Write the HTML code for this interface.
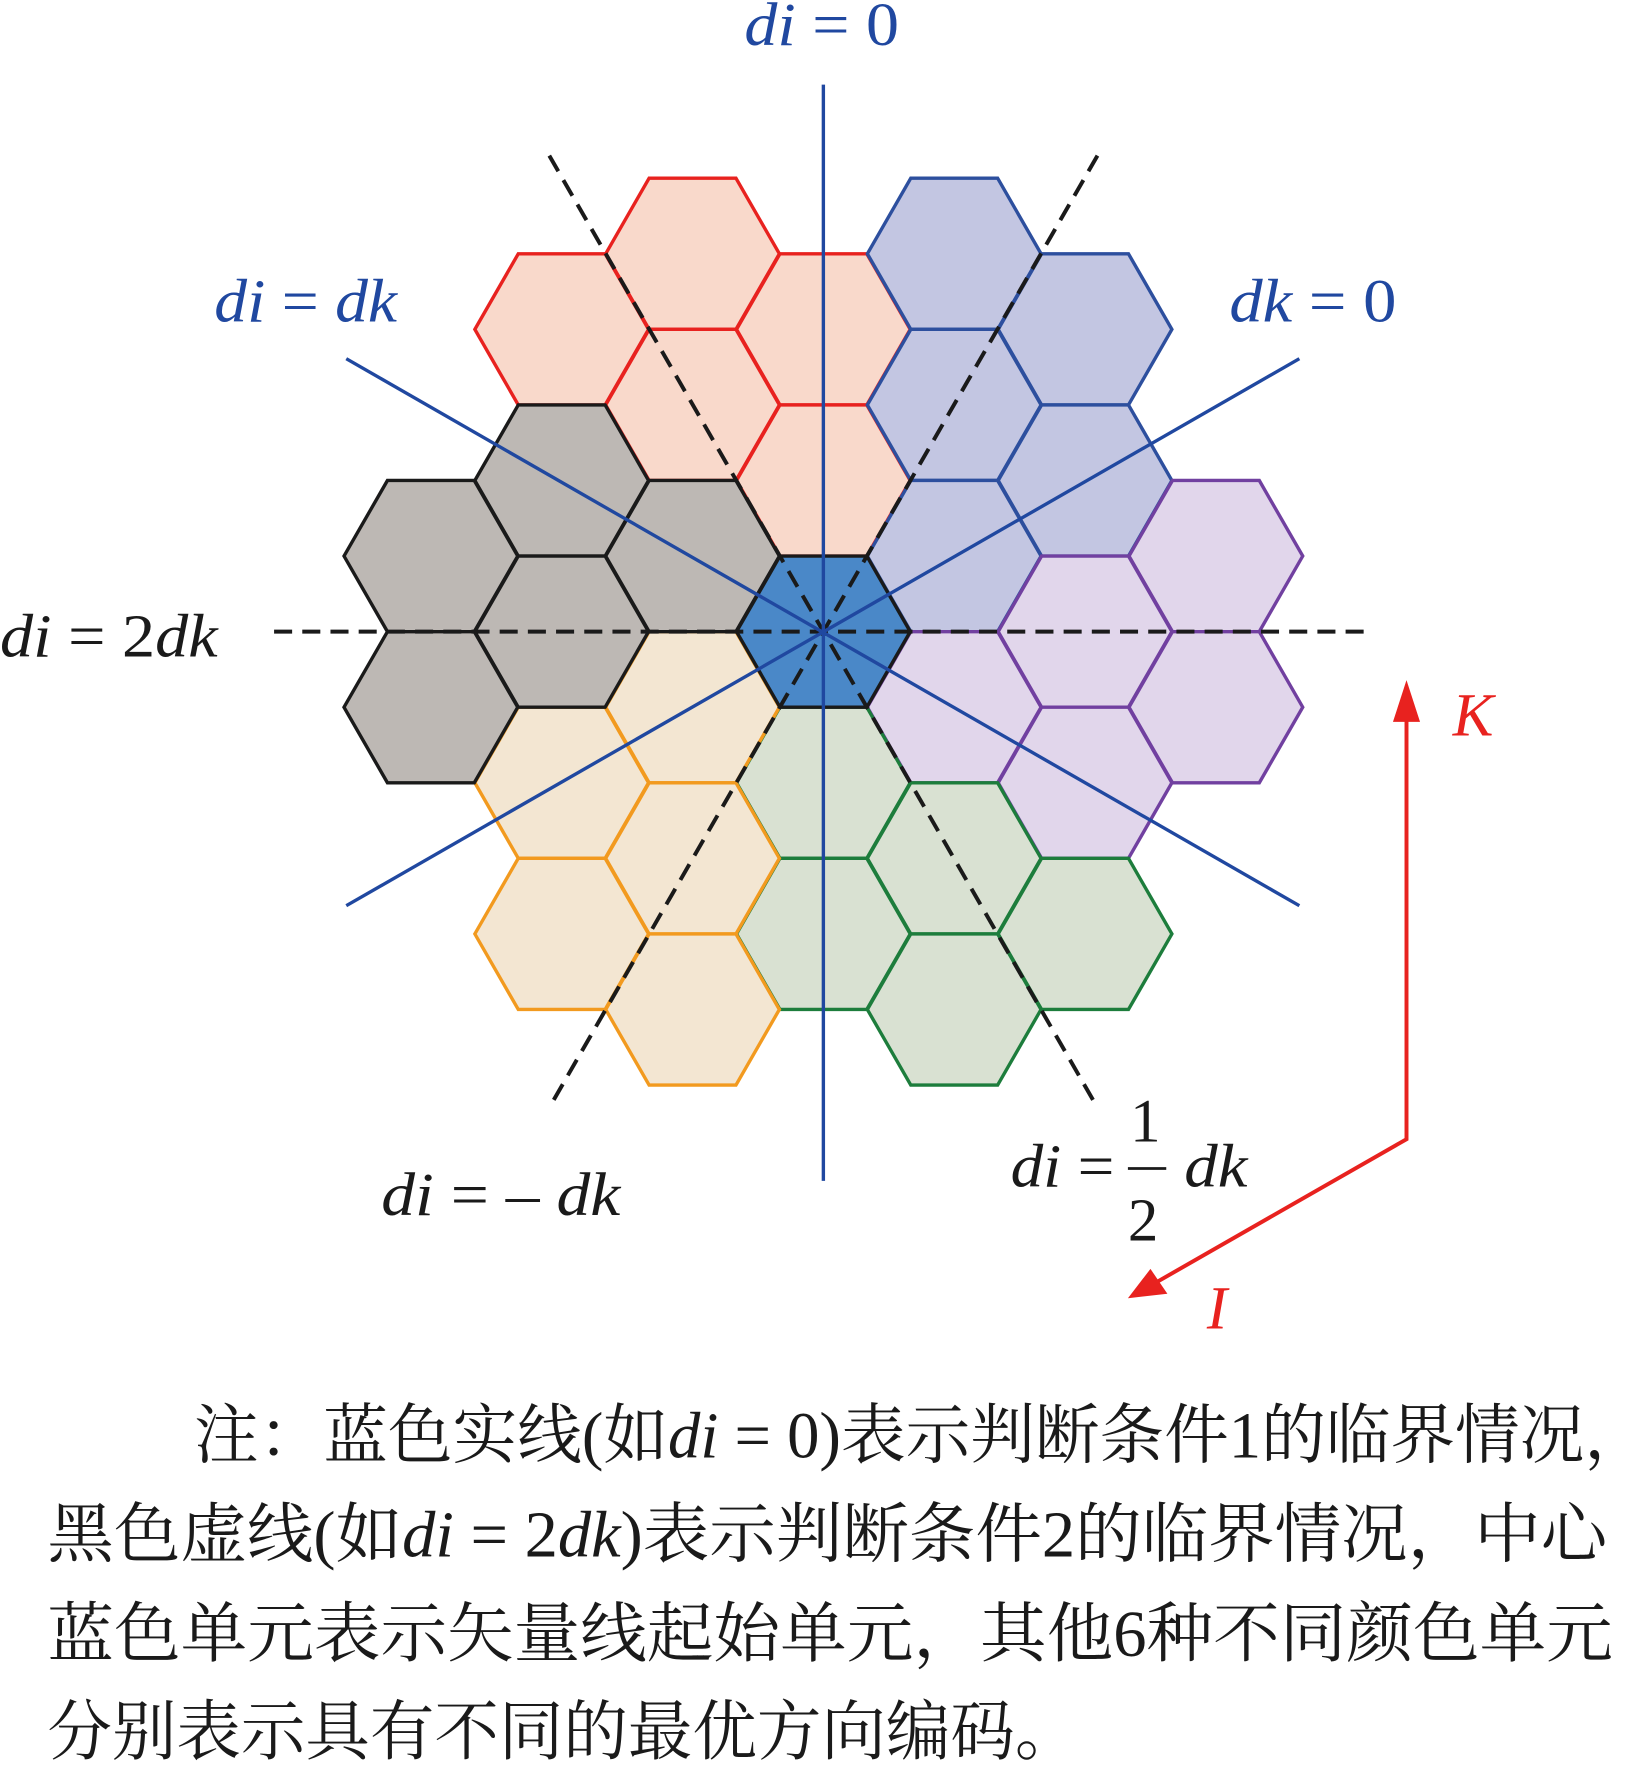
<!DOCTYPE html>
<html><head><meta charset="utf-8"><style>
html,body{margin:0;padding:0;background:#fff;width:1649px;height:1768px;overflow:hidden}
svg{display:block}
text{font-family:"Liberation Serif","Noto Serif CJK SC",serif}
</style></head><body>
<svg width="1649" height="1768" viewBox="0 0 1462 1567.5" xmlns="http://www.w3.org/2000/svg">
<defs>
<polygon id="h" points="-77,0 -38.5,-67 38.5,-67 77,0 38.5,67 -38.5,67"/>
</defs>
<g stroke-width="3" stroke-linejoin="miter">
<g fill="#f9d9cb" stroke="#e8221f">
<use href="#h" x="614" y="225"/><use href="#h" x="498" y="292"/><use href="#h" x="730" y="292"/><use href="#h" x="614" y="359"/><use href="#h" x="730" y="426"/>
</g>
<g fill="#c3c6e2" stroke="#2d4f9e">
<use href="#h" x="846" y="225"/><use href="#h" x="962" y="292"/><use href="#h" x="846" y="359"/><use href="#h" x="962" y="426"/><use href="#h" x="846" y="493"/>
</g>
<g fill="#e1d6eb" stroke="#7140a0">
<use href="#h" x="1078" y="493"/><use href="#h" x="962" y="560"/><use href="#h" x="1078" y="627"/><use href="#h" x="962" y="694"/><use href="#h" x="846" y="627"/>
</g>
<g fill="#d9e1d2" stroke="#1d7d3c">
<use href="#h" x="730" y="694"/><use href="#h" x="846" y="761"/><use href="#h" x="730" y="828"/><use href="#h" x="962" y="828"/><use href="#h" x="846" y="895"/>
</g>
<g fill="#f3e6d2" stroke="#f29a1f">
<use href="#h" x="614" y="627"/><use href="#h" x="498" y="694"/><use href="#h" x="614" y="761"/><use href="#h" x="498" y="828"/><use href="#h" x="614" y="895"/>
</g>
<g fill="#bdb8b4" stroke="#1a1a1a">
<use href="#h" x="498" y="426"/><use href="#h" x="614" y="493"/><use href="#h" x="382" y="493"/><use href="#h" x="498" y="560"/><use href="#h" x="382" y="627"/>
</g>
<use href="#h" x="730" y="560" fill="#4a88c8" stroke="#1a1a1a"/>
</g>
<g stroke="#1a1a1a" stroke-width="3.5" stroke-dasharray="16,9" fill="none">
<line x1="243" y1="560" x2="1218" y2="560"/>
<line x1="487" y1="138" x2="973" y2="982"/>
<line x1="973" y1="138" x2="487" y2="982"/>
</g>
<g stroke="#2048a0" stroke-width="3" fill="none">
<line x1="730" y1="75" x2="730" y2="1047"/>
<line x1="307" y1="318" x2="1152" y2="803"/>
<line x1="307" y1="803" x2="1152" y2="318"/>
</g>
<g stroke="#e8221f" stroke-width="3.5" fill="none">
<polyline points="1247,630 1247,1010 1025,1137"/>
</g>
<polygon fill="#e8221f" points="1247,603 1235,640 1259,640"/>
<polygon fill="#e8221f" points="1000,1151 1020,1125 1035,1147"/>
<g font-size="54">
<text x="660" y="40" fill="#2048a0" textLength="137" lengthAdjust="spacingAndGlyphs"><tspan font-style="italic">di</tspan> = 0</text>
<text x="190" y="285" fill="#2048a0" textLength="162" lengthAdjust="spacingAndGlyphs"><tspan font-style="italic">di</tspan> = <tspan font-style="italic">dk</tspan></text>
<text x="1090" y="285" fill="#2048a0" textLength="148" lengthAdjust="spacingAndGlyphs"><tspan font-style="italic">dk</tspan> = 0</text>
<text x="0" y="582" fill="#1a1a1a" textLength="193" lengthAdjust="spacingAndGlyphs"><tspan font-style="italic">di</tspan> = 2<tspan font-style="italic">dk</tspan></text>
<text x="338" y="1077" fill="#1a1a1a" textLength="212" lengthAdjust="spacingAndGlyphs"><tspan font-style="italic">di</tspan> = – <tspan font-style="italic">dk</tspan></text>
<text x="896" y="1052" fill="#1a1a1a" textLength="92" lengthAdjust="spacingAndGlyphs"><tspan font-style="italic">di</tspan> =</text>
<text x="1002" y="1012" fill="#1a1a1a">1</text>
<text x="1000" y="1100" fill="#1a1a1a">2</text>
<text x="1050" y="1052" fill="#1a1a1a" font-style="italic" textLength="56" lengthAdjust="spacingAndGlyphs">dk</text>
<text x="1288" y="652" fill="#e8221f" font-style="italic">K</text>
<text x="1070" y="1178" fill="#e8221f" font-style="italic">I</text>
</g>
<line x1="1000" y1="1036" x2="1034" y2="1036" stroke="#1a1a1a" stroke-width="2.5"/>
<g font-size="58" fill="#1a1a1a">
<text x="172" y="1292" textLength="1290" lengthAdjust="spacingAndGlyphs">注：蓝色实线(如<tspan font-style="italic">di</tspan> = 0)表示判断条件1的临界情况，</text>
<text x="42" y="1380" textLength="1383" lengthAdjust="spacingAndGlyphs">黑色虚线(如<tspan font-style="italic">di</tspan> = 2<tspan font-style="italic">dk</tspan>)表示判断条件2的临界情况，中心</text>
<text x="42" y="1468" textLength="1388" lengthAdjust="spacingAndGlyphs">蓝色单元表示矢量线起始单元，其他6种不同颜色单元</text>
<text x="42" y="1555" textLength="915" lengthAdjust="spacingAndGlyphs">分别表示具有不同的最优方向编码。</text>
</g>
</svg>
</body></html>
